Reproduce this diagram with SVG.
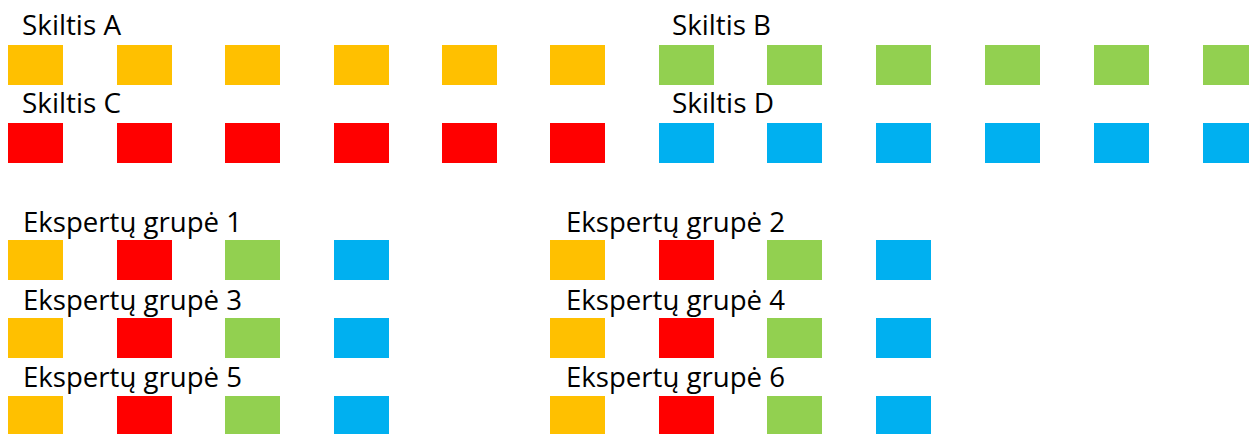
<svg xmlns="http://www.w3.org/2000/svg" width="1249" height="434" viewBox="0 0 1249 434">
<style>
.y{fill:#FFC000}.r{fill:#FF0000}.g{fill:#92D050}.b{fill:#00B0F0}
text{font-family:"Open Sans","Noto Sans","Liberation Sans",sans-serif;font-size:27px;fill:#000}
</style>
<defs>
<rect id="sq" width="55" height="40"/>
</defs>
<rect width="1249" height="434" fill="#fff"/>
<g id="skiltis-a">
<text x="22" y="35" textLength="99" lengthAdjust="spacingAndGlyphs">Skiltis A</text>
<use href="#sq" class="y" x="8" y="45"/><use href="#sq" class="y" x="117" y="45"/><use href="#sq" class="y" x="225" y="45"/><use href="#sq" class="y" x="334" y="45"/><use href="#sq" class="y" x="442" y="45"/><use href="#sq" class="y" x="550" y="45"/>
</g>
<g id="skiltis-b">
<text x="672" y="35" textLength="99" lengthAdjust="spacingAndGlyphs">Skiltis B</text>
<use href="#sq" class="g" x="659" y="45"/><use href="#sq" class="g" x="767" y="45"/><use href="#sq" class="g" x="876" y="45"/><use href="#sq" class="g" x="985" y="45"/><use href="#sq" class="g" x="1094" y="45"/><use href="#sq" class="g" x="1203" y="45"/>
</g>
<g id="skiltis-c">
<text x="22" y="113" textLength="99" lengthAdjust="spacingAndGlyphs">Skiltis C</text>
<use href="#sq" class="r" x="8" y="123"/><use href="#sq" class="r" x="117" y="123"/><use href="#sq" class="r" x="225" y="123"/><use href="#sq" class="r" x="334" y="123"/><use href="#sq" class="r" x="442" y="123"/><use href="#sq" class="r" x="550" y="123"/>
</g>
<g id="skiltis-d">
<text x="672" y="113" textLength="102" lengthAdjust="spacingAndGlyphs">Skiltis D</text>
<use href="#sq" class="b" x="659" y="123"/><use href="#sq" class="b" x="767" y="123"/><use href="#sq" class="b" x="876" y="123"/><use href="#sq" class="b" x="985" y="123"/><use href="#sq" class="b" x="1094" y="123"/><use href="#sq" class="b" x="1203" y="123"/>
</g>
<g id="grupe-1">
<text x="23" y="232" textLength="219" lengthAdjust="spacingAndGlyphs">Ekspertų grupė 1</text>
<use href="#sq" class="y" x="8" y="240"/><use href="#sq" class="r" x="117" y="240"/><use href="#sq" class="g" x="225" y="240"/><use href="#sq" class="b" x="334" y="240"/>
</g>
<g id="grupe-2">
<text x="566" y="232" textLength="219" lengthAdjust="spacingAndGlyphs">Ekspertų grupė 2</text>
<use href="#sq" class="y" x="550" y="240"/><use href="#sq" class="r" x="659" y="240"/><use href="#sq" class="g" x="767" y="240"/><use href="#sq" class="b" x="876" y="240"/>
</g>
<g id="grupe-3">
<text x="23" y="310" textLength="219" lengthAdjust="spacingAndGlyphs">Ekspertų grupė 3</text>
<use href="#sq" class="y" x="8" y="318"/><use href="#sq" class="r" x="117" y="318"/><use href="#sq" class="g" x="225" y="318"/><use href="#sq" class="b" x="334" y="318"/>
</g>
<g id="grupe-4">
<text x="566" y="310" textLength="219" lengthAdjust="spacingAndGlyphs">Ekspertų grupė 4</text>
<use href="#sq" class="y" x="550" y="318"/><use href="#sq" class="r" x="659" y="318"/><use href="#sq" class="g" x="767" y="318"/><use href="#sq" class="b" x="876" y="318"/>
</g>
<g id="grupe-5">
<text x="23" y="387" textLength="219" lengthAdjust="spacingAndGlyphs">Ekspertų grupė 5</text>
<use href="#sq" class="y" x="8" y="396"/><use href="#sq" class="r" x="117" y="396"/><use href="#sq" class="g" x="225" y="396"/><use href="#sq" class="b" x="334" y="396"/>
</g>
<g id="grupe-6">
<text x="566" y="387" textLength="219" lengthAdjust="spacingAndGlyphs">Ekspertų grupė 6</text>
<use href="#sq" class="y" x="550" y="396"/><use href="#sq" class="r" x="659" y="396"/><use href="#sq" class="g" x="767" y="396"/><use href="#sq" class="b" x="876" y="396"/>
</g>
<g id="connectors"/>
</svg>
